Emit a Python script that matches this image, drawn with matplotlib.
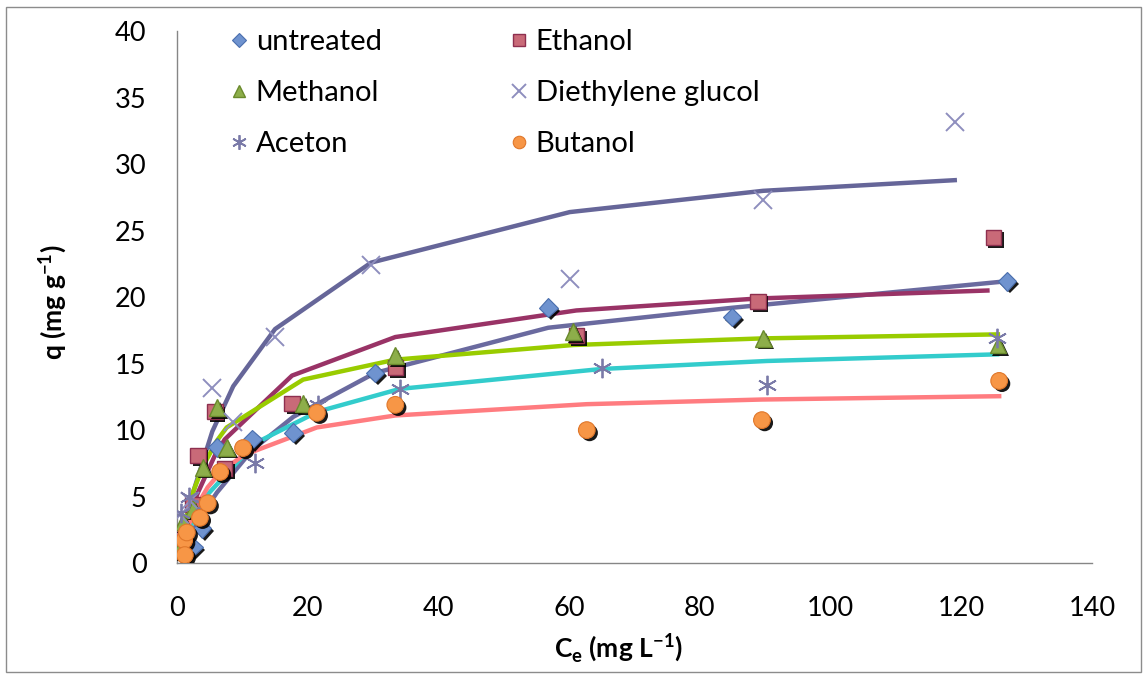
import matplotlib
matplotlib.use("Agg")
import matplotlib.pyplot as plt
import matplotlib.patheffects as pe
from matplotlib.lines import Line2D
from matplotlib.patches import Rectangle

# equilibrium data (Ce in mg/L, q in mg/g) and fitted isotherm values
untreated_ce = [1.0, 2.5, 3.8, 6.1, 11.5, 17.8, 30.3, 56.8, 84.9, 127.0]
untreated_q = [0.6, 1.2, 2.6, 8.7, 9.3, 9.8, 14.3, 19.2, 18.5, 21.2]
untreated_fit = [1.1, 2.5, 3.6, 5.3, 8.5, 11.0, 14.3, 17.7, 19.2, 21.2]

ethanol_ce = [0.2, 0.5, 2.4, 3.2, 5.8, 7.3, 17.6, 33.4, 61.1, 88.9, 124.9]
ethanol_q = [1.0, 2.3, 4.4, 8.1, 11.4, 7.1, 12.0, 14.7, 17.1, 19.7, 24.5]
ethanol_fit_ce = [0.2, 0.5, 2.4, 3.2, 5.8, 7.3, 17.6, 33.4, 61.1, 88.9, 124.0]
ethanol_fit = [0.4, 1.0, 4.2, 5.3, 8.1, 9.3, 14.1, 17.0, 19.0, 19.9, 20.5]

methanol_ce = [0.3, 0.9, 2.5, 4.0, 6.1, 7.6, 19.3, 33.4, 60.6, 89.7, 125.6]
methanol_q = [1.0, 3.1, 4.1, 7.2, 11.7, 8.7, 12.0, 15.6, 17.4, 16.9, 16.4]
methanol_fit = [0.9, 2.4, 5.4, 7.3, 9.2, 10.2, 13.8, 15.3, 16.4, 16.9, 17.2]

diethylene_ce = [0.5, 2.0, 5.4, 8.6, 15.0, 29.7, 60.1, 89.7, 119.0]
diethylene_q = [3.6, 4.7, 13.2, 10.6, 17.0, 22.4, 21.4, 27.3, 33.2]
diethylene_fit = [1.3, 4.6, 9.9, 13.3, 17.6, 22.6, 26.4, 28.0, 28.8]

aceton_ce = [0.6, 1.8, 4.2, 11.9, 21.6, 34.1, 65.0, 90.3, 125.5]
aceton_q = [3.8, 5.0, 4.4, 7.5, 11.9, 13.1, 14.7, 13.4, 16.9]
aceton_fit = [1.0, 2.5, 4.9, 9.0, 11.4, 13.1, 14.6, 15.2, 15.7]

butanol_ce = [1.1, 1.2, 1.5, 3.5, 4.7, 6.6, 10.1, 21.4, 33.4, 62.7, 89.5, 125.8]
butanol_q = [1.7, 0.6, 2.3, 3.4, 4.5, 6.85, 8.65, 11.3, 11.9, 10.0, 10.75, 13.7]
butanol_fit = [2.0, 2.1, 2.6, 4.7, 5.7, 6.8, 8.1, 10.2, 11.1, 11.95, 12.3, 12.55]

x_ticks = [0, 20, 40, 60, 80, 100, 120, 140]
y_ticks = [0, 5, 10, 15, 20, 25, 30, 35, 40]

plt.rcParams['font.family'] = ['Lato', 'DejaVu Sans']
plt.rcParams['mathtext.fontset'] = 'custom'
plt.rcParams['mathtext.rm'] = 'Lato'
plt.rcParams['mathtext.bf'] = 'Lato:bold'

fig = plt.figure(figsize=(11.48, 6.8), dpi=100)
ax = fig.add_axes([0.1542, 0.172, 0.797, 0.782])

# fitted curves
lw = 3.2
ax.plot(diethylene_ce, diethylene_fit, color='#666699', lw=lw, zorder=2)
ax.plot(untreated_ce, untreated_fit, color='#6A6A9F', lw=lw, zorder=2)
ax.plot(ethanol_fit_ce, ethanol_fit, color='#993366', lw=lw, zorder=2)
ax.plot(methanol_ce, methanol_fit, color='#99CC00', lw=lw, zorder=2)
ax.plot(aceton_ce, aceton_fit, color='#33CCCC', lw=lw, zorder=2)
ax.plot(butanol_ce, butanol_fit, color='#FF7C80', lw=lw, zorder=2)

shadow = [pe.SimplePatchShadow(offset=(2, -2), shadow_rgbFace='black', alpha=0.9), pe.Normal()]

styles = [
    ('untreated', untreated_ce, untreated_q, dict(marker='D', ms=9.5, mfc='#6F93CF', mec='#4A6FAE', mew=0.8)),
    ('Ethanol', ethanol_ce, ethanol_q, dict(marker='s', ms=11, mfc='#C96A78', mec='#8E2F4F', mew=1.0)),
    ('Methanol', methanol_ce, methanol_q, dict(marker='^', ms=12, mfc='#8DAE4A', mec='#6A8A2C', mew=1.0)),
    ('Diethylene glucol', diethylene_ce, diethylene_q, dict(marker='x', ms=13, mec='#8E8EBE', mew=1.4)),
    ('Aceton', aceton_ce, aceton_q, dict(marker=(6, 2, 0), ms=14, mec='#7A7AA8', mew=1.3)),
    ('Butanol', butanol_ce, butanol_q, dict(marker='o', ms=12, mfc='#F79646', mec='#E0772A', mew=0.8)),
]

handles = {}
for name, xs, ys, st in styles:
    pes = shadow if st['marker'] not in ('x', (6, 2, 0)) else None
    ax.plot(xs, ys, ls='none', zorder=3, path_effects=pes, **st)
    small = dict(st)
    small['ms'] = st['ms'] * 0.75
    handles[name] = Line2D([], [], ls='none', **small)

order = ['untreated', 'Methanol', 'Aceton', 'Ethanol', 'Diethylene glucol', 'Butanol']
fig.legend([handles[n] for n in order], order, loc='upper left',
           bbox_to_anchor=(230 / 1148, 1 - 29 / 680), ncol=2, frameon=False,
           fontsize=21, handlelength=0.6, handletextpad=0.28, labelspacing=0.86,
           columnspacing=4.4, borderpad=0, borderaxespad=0)

ax.set_xlim(0, 140)
ax.set_ylim(0, 40)
ax.set_xticks(x_ticks)
ax.set_yticks(y_ticks)
ax.tick_params(length=0, labelsize=19.5)
ax.tick_params(axis='y', pad=22)
ax.tick_params(axis='x', pad=24)
for side in ('top', 'right'):
    ax.spines[side].set_visible(False)
for side in ('left', 'bottom'):
    ax.spines[side].set_color('#868686')
    ax.spines[side].set_linewidth(1.0)

ax.set_xlabel(r'C$_{\mathbf{e}}$ (mg L$^{\mathbf{-1}}$)', fontsize=19, fontweight='bold')
ax.xaxis.set_label_coords((618 - 177) / (1092 - 177), -0.13)
ax.set_ylabel(r'q (mg g$^{\mathbf{-1}}$)', fontsize=19, fontweight='bold')
ax.yaxis.set_label_coords(-0.118, 0.49)

fig.patches.append(Rectangle((6 / 1148, 8 / 680), 1135 / 1148, 665 / 680,
                             transform=fig.transFigure, fill=False,
                             edgecolor='#8C8C8C', lw=1.0))

fig.savefig('out.png', dpi=100)
